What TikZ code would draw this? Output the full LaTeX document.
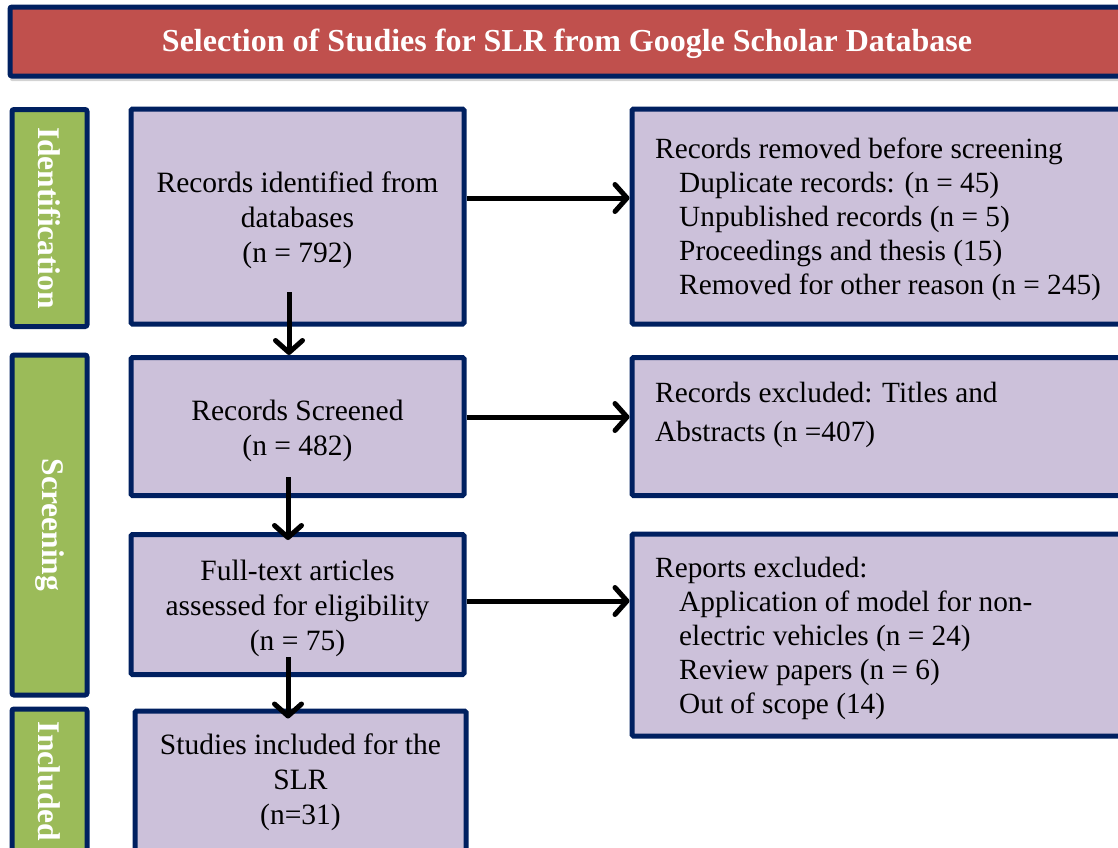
\documentclass[tikz,border=0pt]{standalone}
\usepackage{fontspec}
\setmainfont{Liberation Serif}
\usetikzlibrary{arrows.meta,shadows}
\definecolor{navy}{HTML}{002060}
\definecolor{bannerred}{HTML}{C0504D}
\definecolor{stagegreen}{HTML}{9BBB59}
\definecolor{boxlilac}{HTML}{CCC1DA}
\tikzset{
  banner/.style={draw=navy, line width=5pt, fill=bannerred, rounded corners=2pt,
    drop shadow={shadow xshift=0pt, shadow yshift=-5pt, opacity=0.35}},
  stage/.style={draw=navy, line width=5pt, fill=stagegreen, rounded corners=2pt},
  stagetext/.style={text=white, rotate=-90, font=\fontsize{31.5}{36}\selectfont\bfseries},
  flowbox/.style={draw=navy, line width=5pt, fill=boxlilac, rounded corners=1.5pt},
  boxtext/.style={align=center, inner sep=0pt, font=\fontsize{29.5}{35}\selectfont},
  sidetext/.style={anchor=base west, align=left, inner sep=0pt,
    font=\fontsize{29.3}{34}\selectfont},
  flowarrow/.style={line width=5pt, -{Straight Barb[length=12pt,width=27pt,round]}},
}
\newcommand{\ind}{\hspace*{24pt}}
\begin{document}
\begin{tikzpicture}[x=1pt,y=-1pt]
\useasboundingbox (0,0) rectangle (1118,847);
\clip (0,0) rectangle (1118,847);

% title banner
\node[banner, minimum width=1114pt, minimum height=69pt] (title) at (567,41.5) {};
\node[text=white, font=\fontsize{32}{36}\selectfont\bfseries] (titletext) at (567,44)
  {Selection of Studies for SLR from Google Scholar Database};

% stage labels on the left
\node[stage, minimum width=75pt, minimum height=217pt] (sid) at (49.5,218) {};
\node[stagetext] (sidt) at (sid.center) {Identification};
\node[stage, minimum width=75pt, minimum height=340pt] (sscr) at (49.5,525) {};
\node[stagetext] (sscrt) at (sscr.center) {Screening};
\node[stage, minimum width=75pt, minimum height=145pt] (sinc) at (49.5,781.5) {};
\node[stagetext] (sinct) at (sinc.center) {Included};

% main flow boxes
\node[flowbox, minimum width=333pt, minimum height=215pt] (b1) at (297.5,216.5) {};
\node[flowbox, minimum width=333pt, minimum height=138pt] (b2) at (297.5,426.5) {};
\node[flowbox, minimum width=333pt, minimum height=140pt] (b3) at (297.5,604.5) {};
\node[flowbox, minimum width=331pt, minimum height=150pt] (b4) at (300.5,786) {};
\node[boxtext] (b1t) at (297.5,220.5) {Records identified from\\databases\\(n = 792)};
\node[boxtext] (b2t) at (297.5,430.5) {Records Screened\\(n = 482)};
\node[boxtext] (b3t) at (297.5,608.5) {Full-text articles\\assessed for eligibility\\(n = 75)};
\node[boxtext] (b4t) at (300.5,782) {Studies included for the\\SLR\\(n=31)};

% exclusion boxes on the right
\node[flowbox, minimum width=500pt, minimum height=215pt] (r1) at (882,216.5) {};
\node[flowbox, minimum width=500pt, minimum height=138pt] (r2) at (882,426.5) {};
\node[flowbox, minimum width=500pt, minimum height=202pt] (r3) at (882,635) {};

% the side texts are anchored at the baseline of their last line
\node[sidetext] (r1t) at (655,294)
  {Records removed before screening\\
   \ind Duplicate records: (n = 45)\\
   \ind Unpublished records (n = 5)\\
   \ind Proceedings and thesis (15)\\
   \ind Removed for other reason (n = 245)};
\node[sidetext, font=\fontsize{29.3}{39}\selectfont] (r2t) at (655,441)
  {Records excluded: Titles and\\Abstracts (n =407)};
\node[sidetext] (r3t) at (655,713)
  {Reports excluded:\\
   \ind Application of model for non-\\
   \ind electric vehicles (n = 24)\\
   \ind Review papers (n = 6)\\
   \ind Out of scope (14)};

% connectors
\coordinate (d1) at (289,292);
\coordinate (d2) at (288,477);
\coordinate (d3) at (288,657);
\draw[flowarrow] (b1.east |- 0,198) -- (r1.west |- 0,198);
\draw[flowarrow] (b2.east |- 0,417) -- (r2.west |- 0,417);
\draw[flowarrow] (b3.east |- 0,601) -- (r3.west |- 0,601);
\draw[flowarrow] (d1) -- (d1 |- b2.north);
\draw[flowarrow] (d2) -- ([yshift=-8pt]d2 |- b3.north);
\draw[flowarrow] (d3) -- ([yshift=-10pt]d3 |- b4.north);
\end{tikzpicture}
\end{document}
